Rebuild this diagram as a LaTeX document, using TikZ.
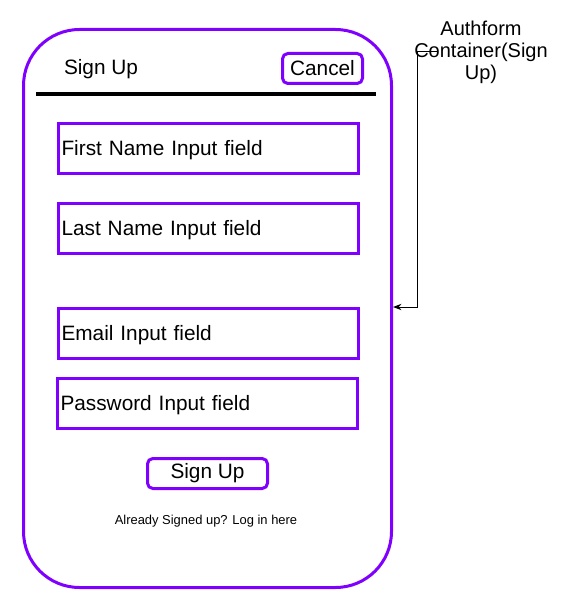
\documentclass[tikz,border=0pt]{standalone}
\usepackage{fontspec}
\setmainfont{Liberation Sans}
\usetikzlibrary{positioning, arrows.meta}
\definecolor{formpurple}{HTML}{7F00FF}

\begin{document}
\begin{tikzpicture}[
      x=0.75pt, y=-0.75pt,
      every node/.style={font=\fontsize{15.6pt}{18pt}\selectfont, inner sep=0pt},
      field/.style={draw=formpurple, line width=2.25pt, minimum width=225pt, minimum height=37.5pt, anchor=north west, text width=220.5pt, text height=12.5pt, text depth=1.5pt, align=left},
      button/.style={draw=formpurple, line width=2.25pt, rounded corners=4pt, anchor=north west},
      >=Stealth,
    ]
    \useasboundingbox (0,0) rectangle (567,609);
    % outer container
    \node[draw=formpurple, line width=2.25pt, rounded corners=42pt, minimum width=276pt, minimum height=418.5pt, anchor=north west] (container) at (22,28) {};

    % header
    \node (title) at (101,69) {Sign Up};
    \node[button, minimum width=60pt, minimum height=22.5pt] (cancel) at (281,52) {Cancel};
    \draw[line width=3pt] (36,94) coordinate (barL) -- (376,94) coordinate (barR);

    % input fields
    \node[field] (first) at (57,122) {First Name Input field};
    \node[field] (last) at (57,202) {Last Name Input field};
    \node[field] (email) at (57,307) {Email Input field};
    \node[field] (password) at (56,377) {Password Input field};

    % submit
    \node[button, minimum width=90pt, minimum height=22.5pt] (submit) at (146,457) {Sign Up};
    \node[font=\fontsize{9.7pt}{11pt}\selectfont] (login) at (206,521) {Already Signed up? Log in here};

    % annotation
    \node[align=center, font=\fontsize{15pt}{16.5pt}\selectfont] (authlabel) at (481,52) {Authform\\Container(Sign\\Up)};
    \coordinate (authin) at (437,52);
    \draw[->, line width=0.75pt] (authin) -- (417,52) |- (container.east |- email.north);
  \end{tikzpicture}
\end{document}
